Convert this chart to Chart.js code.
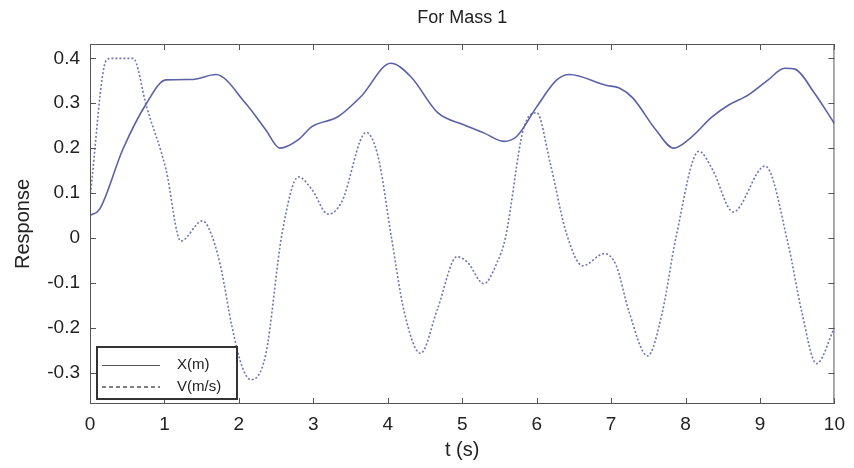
<!DOCTYPE html>
<html>
<head>
<meta charset="utf-8">
<script src="https://cdn.jsdelivr.net/npm/chart.js@4.4.1/dist/chart.umd.min.js"></script>
<style>
  html, body { margin: 0; padding: 0; background: #fff; }
  #wrap { width: 854px; height: 468px; }
</style>
</head>
<body>
<div id="wrap"><canvas id="grafico" width="854" height="468"></canvas></div>
<script>
// dati
const titolo = "For Mass 1";
const etichettaX = "t (s)";
const etichettaY = "Response";
const nomiSerie = ["X(m)", "V(m/s)"];

const xTicks = [0, 1, 2, 3, 4, 5, 6, 7, 8, 9, 10];
const yTicks = [-0.3, -0.2, -0.1, 0, 0.1, 0.2, 0.3, 0.4];

// spostamento X(m)
const tempoX = [0, 0.13, 0.44, 0.76, 1.02, 1.38, 1.69, 2.09, 2.36, 2.55, 2.8, 2.98, 3.33, 3.64, 4.04, 4.31, 4.67, 5.02, 5.29, 5.56, 5.73, 6.0, 6.27, 6.44, 6.93, 7.11, 7.29, 7.6, 7.84, 8.04, 8.36, 8.58, 8.84, 9.11, 9.33, 9.47, 9.73, 10];
const valoriX = [0.05, 0.064, 0.197, 0.30, 0.352, 0.353, 0.364, 0.30, 0.241, 0.20, 0.219, 0.248, 0.27, 0.315, 0.389, 0.359, 0.279, 0.252, 0.234, 0.215, 0.226, 0.292, 0.352, 0.364, 0.34, 0.334, 0.312, 0.241, 0.20, 0.219, 0.27, 0.296, 0.318, 0.352, 0.378, 0.376, 0.323, 0.255];

// velocita V(m/s)
const tempoV = [0, 0.22, 0.3, 0.58, 0.76, 1.02, 1.22, 1.51, 1.6, 1.75, 1.91, 2.05, 2.16, 2.36, 2.58, 2.8, 2.98, 3.2, 3.38, 3.71, 3.87, 4.05, 4.22, 4.44, 4.67, 4.93, 5.07, 5.29, 5.47, 5.58, 5.82, 6.0, 6.18, 6.4, 6.62, 6.91, 7.07, 7.24, 7.49, 7.69, 7.87, 8.18, 8.36, 8.64, 9.07, 9.38, 9.56, 9.76, 10];
const valoriV = [0.09, 0.396, 0.40, 0.40, 0.292, 0.153, -0.007, 0.038, 0.02, -0.06, -0.2, -0.29, -0.316, -0.26, 0.01, 0.136, 0.108, 0.053, 0.08, 0.235, 0.181, 0.0, -0.164, -0.257, -0.157, -0.042, -0.054, -0.102, -0.054, 0.0, 0.241, 0.279, 0.168, 0.01, -0.062, -0.035, -0.062, -0.164, -0.263, -0.164, 0.0, 0.193, 0.153, 0.058, 0.16, -0.015, -0.164, -0.28, -0.2];

function punti(tt, vv){
  let r = [];
  for (let i = 0; i < tt.length; i++) r.push({x: tt[i], y: vv[i]});
  return r;
}

const FONT = "'Liberation Sans', Arial, sans-serif";
const TESTO = "#222";

// cornice, tacche interne, titoli e legenda (stile matlab)
const stileMatlab = {
  id: "stileMatlab",
  afterDatasetsDraw(chart){
    const ctx = chart.ctx;
    const a = chart.chartArea;
    const sx = chart.scales.x, sy = chart.scales.y;
    ctx.save();
    ctx.strokeStyle = "#555";
    ctx.lineWidth = 1;
    ctx.strokeRect(a.left + 0.5, a.top + 0.5, a.right - a.left - 1, a.bottom - a.top - 1);
    ctx.beginPath();
    for (let v of xTicks) {
      let px = Math.round(sx.getPixelForValue(v)) + 0.5;
      ctx.moveTo(px, a.bottom); ctx.lineTo(px, a.bottom - 6);
      ctx.moveTo(px, a.top); ctx.lineTo(px, a.top + 6);
    }
    for (let v of yTicks) {
      let py = Math.round(sy.getPixelForValue(v)) + 0.5;
      ctx.moveTo(a.left, py); ctx.lineTo(a.left + 6, py);
      ctx.moveTo(a.right, py); ctx.lineTo(a.right - 6, py);
    }
    ctx.stroke();

    // titoli
    ctx.fillStyle = TESTO;
    ctx.textAlign = "center";
    ctx.textBaseline = "middle";
    ctx.font = "18px " + FONT;
    ctx.fillText(titolo, (a.left + a.right) / 2, 18);
    ctx.font = "20px " + FONT;
    ctx.fillText(etichettaX, (a.left + a.right) / 2, 450);
    ctx.save();
    ctx.translate(23, (a.top + a.bottom) / 2);
    ctx.rotate(-Math.PI / 2);
    ctx.fillText(etichettaY, 0, 0);
    ctx.restore();

    // legenda
    const lx = 97, ly = 347, lw = 140, lh = 52;
    ctx.fillStyle = "#fff";
    ctx.fillRect(lx, ly, lw, lh);
    ctx.strokeStyle = "#333";
    ctx.lineWidth = 2;
    ctx.strokeRect(lx, ly, lw, lh);
    ctx.lineWidth = 1;
    ctx.strokeStyle = "#555";
    ctx.beginPath();
    ctx.moveTo(102, 365.5); ctx.lineTo(160, 365.5);
    ctx.stroke();
    ctx.setLineDash([4, 3]);
    ctx.lineWidth = 1.5;
    ctx.beginPath();
    ctx.moveTo(102, 387); ctx.lineTo(160, 387);
    ctx.stroke();
    ctx.setLineDash([]);
    ctx.fillStyle = TESTO;
    ctx.textAlign = "left";
    ctx.font = "15px " + FONT;
    ctx.fillText(chart.data.datasets[0].label, 177, 365);
    ctx.fillText(chart.data.datasets[1].label, 177, 387);
    ctx.restore();
  }
};

window.onload = () => {
  new Chart(document.getElementById("grafico"), {
    type: "line",
    data: {
      datasets: [{
        label: nomiSerie[0],
        data: punti(tempoX, valoriX),
        borderColor: "#5b61a6",
        borderWidth: 1.6,
        pointRadius: 0,
        cubicInterpolationMode: "monotone",
        fill: false
      }, {
        label: nomiSerie[1],
        data: punti(tempoV, valoriV),
        borderColor: "#6f76b2",
        borderWidth: 1.6,
        borderDash: [2, 2],
        pointRadius: 0,
        cubicInterpolationMode: "monotone",
        fill: false
      }]
    },
    options: {
      responsive: false,
      animation: false,
      layout: { padding: { top: 44, right: 16, left: 0, bottom: 0 } },
      plugins: {
        legend: { display: false },
        title: { display: false },
        tooltip: { enabled: false }
      },
      scales: {
        x: {
          type: "linear",
          min: 0, max: 10,
          afterBuildTicks: (s) => { s.ticks = xTicks.map(v => ({value: v})); },
          afterFit: (s) => { s.height = 64; },
          grid: { display: false, drawTicks: false },
          border: { display: false },
          ticks: { color: TESTO, font: { family: FONT, size: 19 }, padding: 9, maxRotation: 0 }
        },
        y: {
          type: "linear",
          min: -0.37, max: 0.432,
          afterBuildTicks: (s) => { s.ticks = yTicks.map(v => ({value: v})); },
          afterFit: (s) => { s.width = 90; },
          grid: { display: false, drawTicks: false },
          border: { display: false },
          ticks: {
            color: TESTO, font: { family: FONT, size: 19 }, padding: 10,
            callback: (v) => Math.abs(v) < 1e-9 ? "0" : Number(v).toFixed(1)
          }
        }
      }
    },
    plugins: [stileMatlab]
  });
};
</script>
</body>
</html>
